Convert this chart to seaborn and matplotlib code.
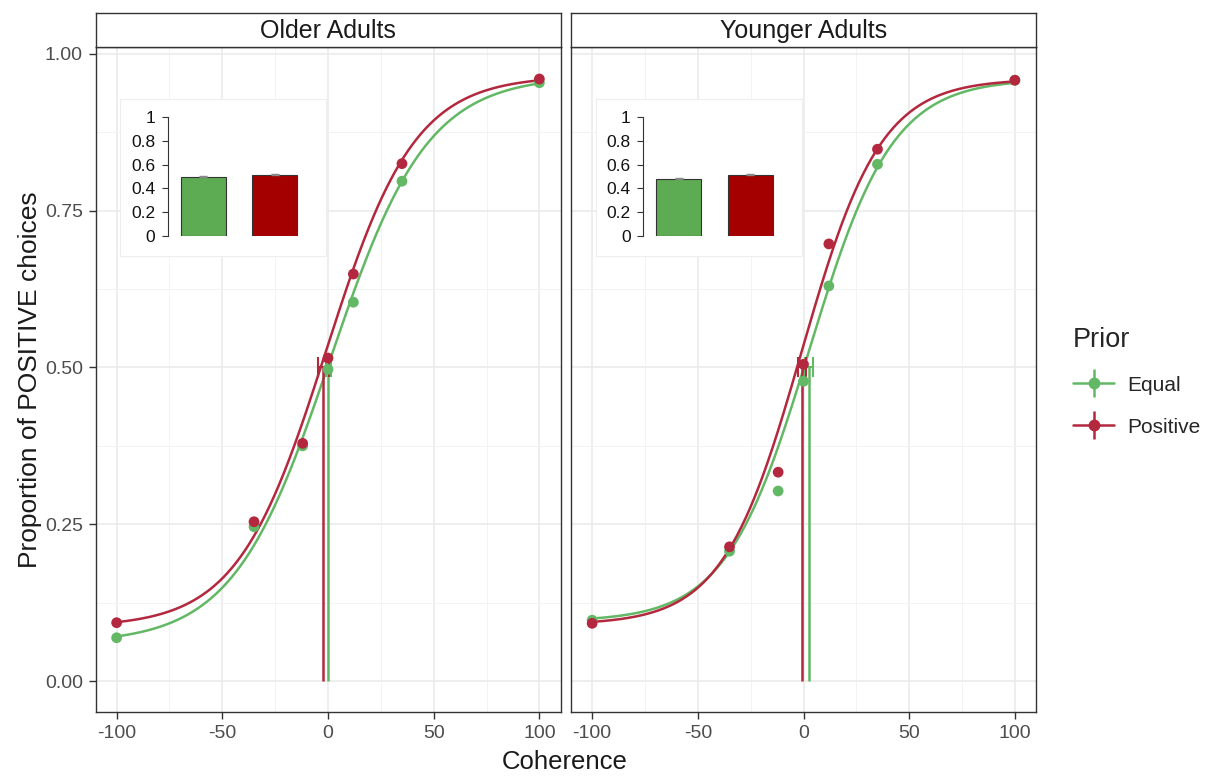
import numpy as np
import pandas as pd
import matplotlib
matplotlib.use("Agg")
import matplotlib.pyplot as plt
import seaborn as sns
from matplotlib.lines import Line2D
from matplotlib.legend_handler import HandlerTuple

# ----- Dados -----
grupos = ["Older Adults", "Younger Adults"]
priors = ["Equal", "Positive"]
coerencia = [-100, -35, -12, 0, 12, 35, 100]

# proporção de escolhas POSITIVE (pontos observados)
older_equal = [0.069, 0.246, 0.375, 0.497, 0.604, 0.797, 0.954]
older_positive = [0.093, 0.254, 0.379, 0.515, 0.649, 0.825, 0.960]
younger_equal = [0.097, 0.207, 0.303, 0.478, 0.630, 0.824, 0.958]
younger_positive = [0.092, 0.214, 0.333, 0.505, 0.697, 0.848, 0.958]

# parâmetros do ajuste logístico (ordem: OA-Equal, OA-Positive, YA-Equal, YA-Positive)
fit_guess = [0.060, 0.086, 0.095, 0.090]
fit_lapse = [0.035, 0.035, 0.040, 0.040]
fit_mu = [1.0, -1.0, 2.7, -0.9]
fit_slope = [23.0, 21.0, 19.7, 18.7]

# PSE e erro padrão (linhas verticais + barra horizontal)
pse = [0.2, -2.2, 2.6, -0.9]
pse_se = [1.2, 2.5, 1.7, 1.9]

# inset: proporção média de escolhas POSITIVE
inset_older = [0.498, 0.515]
inset_younger = [0.482, 0.515]
inset_se_older = [0.005, 0.005]
inset_se_younger = [0.005, 0.004]

cores = {"Equal": "#63b865", "Positive": "#b3283e"}
cores_barras = {"Equal": "#5dab52", "Positive": "#a50000"}

# ----- Montando os data frames -----
pontos = []
for g, series in zip(grupos, [(older_equal, older_positive), (younger_equal, younger_positive)]):
    for p, vals in zip(priors, series):
        for c, v in zip(coerencia, vals):
            pontos.append({"grupo": g, "prior": p, "coherence": c, "prop": v})
df_pontos = pd.DataFrame(pontos)

xs = np.linspace(-100, 100, 400)
curvas = []
i = 0
for g in grupos:
    for p in priors:
        y = fit_guess[i] + (1 - fit_guess[i] - fit_lapse[i]) / (1 + np.exp(-(xs - fit_mu[i]) / fit_slope[i]))
        curvas.append(pd.DataFrame({"grupo": g, "prior": p, "coherence": xs, "prop": y}))
        i += 1
df_curvas = pd.concat(curvas, ignore_index=True)

# ----- Figura -----
sns.set_theme(style="whitegrid")
plt.rcParams['font.family'] = ['Liberation Sans', 'DejaVu Sans']

W, H = 1211, 776
fig = plt.figure(figsize=(W / 100, H / 100), dpi=100)

painel_x = [95.5, 571]
pw, ph, pb = 465, 665, 64

for k, g in enumerate(grupos):
    ax = fig.add_axes([painel_x[k] / W, pb / H, pw / W, ph / H])
    ax.set_facecolor("white")

    sns.lineplot(data=df_curvas[df_curvas.grupo == g], x="coherence", y="prop", hue="prior",
                 palette=cores, linewidth=1.8, legend=False, ax=ax, zorder=3)
    sns.scatterplot(data=df_pontos[df_pontos.grupo == g], x="coherence", y="prop", hue="prior",
                    palette=cores, s=60, edgecolor="none", legend=False, ax=ax, zorder=4)

    for j, p in enumerate(priors):
        idx = k * 2 + j
        ax.vlines(pse[idx], 0, 0.5, color=cores[p], lw=1.8, zorder=3)
        ax.errorbar(pse[idx], 0.5, xerr=pse_se[idx], fmt="none", ecolor=cores[p],
                    elinewidth=1.5, capsize=7, capthick=1.5, zorder=3)

    ax.set_xlim(-110, 110)
    ax.set_ylim(-0.0494, 1.011)
    ax.set_xticks([-100, -50, 0, 50, 100])
    ax.set_xticks([-75, -25, 25, 75], minor=True)
    ax.set_yticks([0, 0.25, 0.5, 0.75, 1.0])
    ax.set_yticks([0.125, 0.375, 0.625, 0.875], minor=True)
    ax.set_xticklabels(["-100", "-50", "0", "50", "100"])
    ax.set_yticklabels(["0.00", "0.25", "0.50", "0.75", "1.00"])
    ax.grid(which="major", color="#ebebeb", lw=1.2)
    ax.grid(which="minor", color="#f3f3f3", lw=0.7)
    ax.set_axisbelow(True)
    for s in ax.spines.values():
        s.set_color("#333333")
        s.set_linewidth(1.0)
    ax.tick_params(axis="both", which="major", labelsize=14, labelcolor="#4d4d4d",
                   color="#333333", length=5, width=1, pad=4, bottom=True, left=True)
    ax.tick_params(axis="both", which="minor", length=0)
    if k == 1:
        ax.tick_params(axis="y", length=0, left=False, labelleft=False)
    ax.set_xlabel("")
    ax.set_ylabel("")

    # faixa do facet
    strip = fig.add_axes([painel_x[k] / W, (H - 47) / H, pw / W, 34 / H])
    strip.set_facecolor("white")
    strip.set_xticks([])
    strip.set_yticks([])
    for s in strip.spines.values():
        s.set_color("#333333")
        s.set_linewidth(1.0)
    strip.text(0.5, 0.47, g, ha="center", va="center", fontsize=18, color="#1a1a1a")

    # inset com as barras
    caixa = ax.inset_axes([0.0527, 0.686, 0.443, 0.236])
    caixa.set_facecolor("white")
    caixa.set_xticks([])
    caixa.set_yticks([])
    caixa.grid(False)
    for s in caixa.spines.values():
        s.set_color("#eeeeee")
        s.set_linewidth(0.8)

    bax = ax.inset_axes([0.155, 0.7158, 0.3075, 0.1789])
    bax.set_facecolor("none")
    vals = inset_older if k == 0 else inset_younger
    ses = inset_se_older if k == 0 else inset_se_younger
    sns.barplot(x=priors, y=vals, hue=priors, palette=cores_barras, legend=False, saturation=1,
                edgecolor="#333333", linewidth=0.8, width=0.63, ax=bax)
    bax.errorbar([0, 1], vals, yerr=ses, fmt="none", ecolor="#888888", capsize=3, elinewidth=0.8)
    bax.set_xlim(-0.5, 1.5)
    bax.set_ylim(0, 1)
    bax.set_yticks([0, 0.2, 0.4, 0.6, 0.8, 1.0])
    bax.set_yticklabels(["0", "0.2", "0.4", "0.6", "0.8", "1"])
    bax.set_xticks([])
    bax.grid(False)
    for s in ["top", "right", "bottom"]:
        bax.spines[s].set_visible(False)
    bax.spines["left"].set_color("#333333")
    bax.spines["left"].set_linewidth(0.8)
    bax.tick_params(axis="y", labelsize=12.5, labelcolor="#111111", color="#333333",
                    length=4, width=0.8, pad=5, left=True)
    bax.set_xlabel("")
    bax.set_ylabel("")

# títulos dos eixos
fig.text(30 / W, (H - 380) / H, "Proportion of POSITIVE choices", rotation=90,
         ha="center", va="center", fontsize=19, color="#1a1a1a")
fig.text(565 / W, (H - 762) / H, "Coherence", ha="center", va="center",
         fontsize=18.5, color="#1a1a1a")

# legenda
handles = []
for p in priors:
    h1 = Line2D([0], [0], color=cores[p], lw=1.8, marker="o", markersize=7.5)
    h2 = Line2D([0], [0], color=cores[p], lw=0, marker="|", markersize=20, markeredgewidth=1.8)
    handles.append((h1, h2))
leg = fig.legend(handles, priors, title="Prior", loc="upper left",
                 bbox_to_anchor=(1054 / W, (H - 308) / H), frameon=False,
                 fontsize=15, title_fontsize=19.5, handlelength=2.0, handletextpad=0.6,
                 handler_map={tuple: HandlerTuple(ndivide=1)},
                 labelspacing=1.1, alignment="left")

fig.savefig("out.png", dpi=100)
